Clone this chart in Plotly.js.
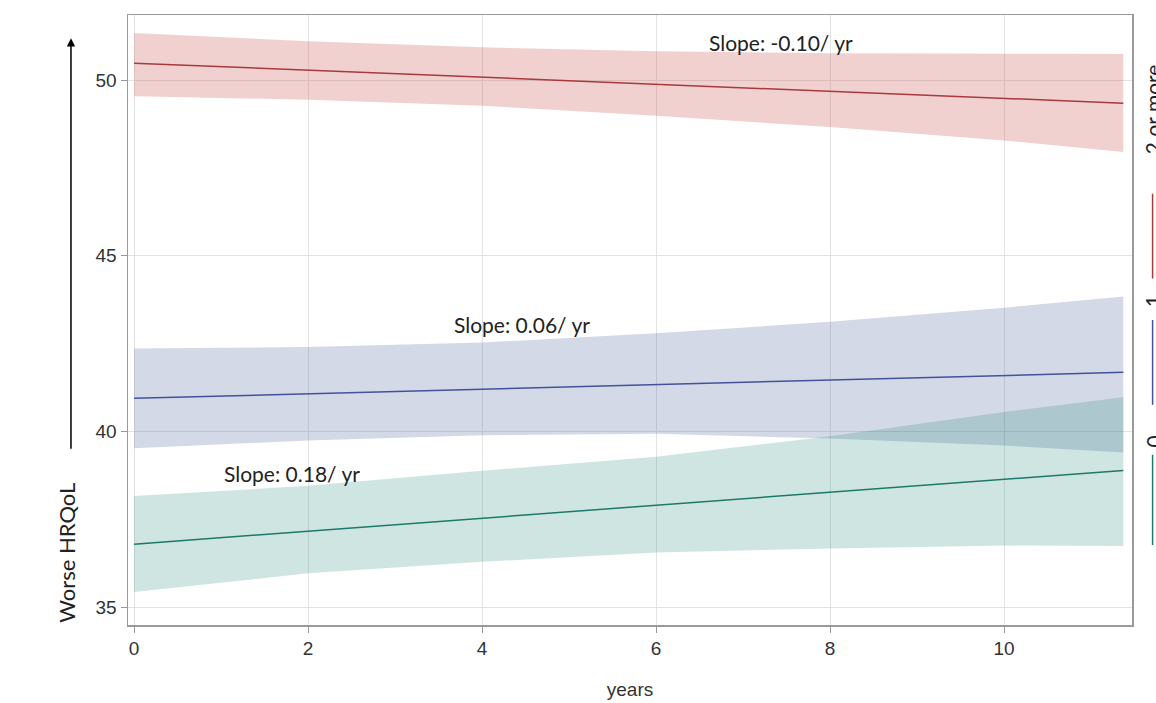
<!DOCTYPE html>
<html>
<head>
<meta charset="utf-8">
<script src="https://cdn.plot.ly/plotly-3.0.1.min.js"></script>
<style>html,body{margin:0;padding:0;background:#fff;}#chart{width:1156px;height:703px;}</style>
</head>
<body>
<div id="chart"></div>
<script>
// ---- data ----
const years = [0, 2, 4, 6, 8, 10, 11.37];

const groupNames = ["2 or more", "1", "0"];

const fit2plus  = [50.48, 50.28, 50.08, 49.88, 49.68, 49.48, 49.34];
const upper2plus = [51.34, 51.10, 50.93, 50.82, 50.76, 50.74, 50.74];
const lower2plus = [49.54, 49.44, 49.27, 48.98, 48.66, 48.28, 47.95];

const fit1   = [40.94, 41.07, 41.20, 41.33, 41.46, 41.59, 41.68];
const upper1 = [42.36, 42.40, 42.53, 42.79, 43.12, 43.52, 43.84];
const lower1 = [39.52, 39.74, 39.89, 39.93, 39.80, 39.60, 39.40];

const fit0   = [36.79, 37.16, 37.53, 37.90, 38.27, 38.64, 38.89];
const upper0 = [38.16, 38.45, 38.88, 39.28, 39.86, 40.55, 40.97];
const lower0 = [35.43, 35.96, 36.29, 36.55, 36.67, 36.75, 36.74];

const slopeLabels = ["Slope: -0.10/ yr", "Slope: 0.06/ yr", "Slope: 0.18/ yr"];
const slopeX = [7.43, 4.46, 1.82];
const slopeY = [51.08, 43.05, 38.80];

const xTicks = [0, 2, 4, 6, 8, 10];
const yTicks = [35, 40, 45, 50];

// ---- styles ----
const lineColors = ["#a83a3c", "#44529c", "#1b7a68"];
const bandColors = ["rgba(204,80,82,0.27)", "rgba(70,90,150,0.23)", "rgba(30,130,120,0.21)"];

const fits = [fit2plus, fit1, fit0];
const uppers = [upper2plus, upper1, upper0];
const lowers = [lower2plus, lower1, lower0];

const traces = [];
for (let i = 0; i < 3; i++) {
  traces.push({
    x: years.concat(years.slice().reverse()),
    y: uppers[i].concat(lowers[i].slice().reverse()),
    type: "scatter", mode: "lines", fill: "toself",
    fillcolor: bandColors[i], line: {width: 0}, hoverinfo: "skip", showlegend: false
  });
}
for (let i = 0; i < 3; i++) {
  traces.push({
    x: years, y: fits[i], type: "scatter", mode: "lines",
    name: groupNames[i], line: {color: lineColors[i], width: 1.5}, showlegend: false
  });
}

const narrow = "'Liberation Sans Narrow', 'Liberation Sans', Arial, sans-serif";
const tickFont = {family: narrow, size: 19, color: "#333"};
const textFont = {family: "Lato, Open Sans, sans-serif", size: 21, color: "#222"};

const annotations = [];
for (let i = 0; i < 3; i++) {
  annotations.push({x: slopeX[i], y: slopeY[i], xref: "x", yref: "y", text: slopeLabels[i],
    showarrow: false, font: textFont, xanchor: "center", yanchor: "middle"});
}
// y-axis title with arrow
annotations.push({xref: "paper", yref: "paper", x: -0.062, y: 0.0, yanchor: "bottom", xanchor: "center",
  text: "Worse HRQoL", textangle: -90, showarrow: false, font: {family: "Lato, Open Sans, sans-serif", size: 22, color: "#222"}});
annotations.push({xref: "paper", yref: "paper", x: -0.0568, y: 0.962, text: "", showarrow: true,
  arrowhead: 2, arrowsize: 1.1, arrowwidth: 1.5, arrowcolor: "#000", ax: 0, ay: 412, axref: "pixel", ayref: "pixel"});

// legend on right (rotated labels with vertical line samples)
const legTextY = [0.845, 0.53, 0.30];
const legLine = [[0.568, 0.707], [0.361, 0.500], [0.131, 0.279]];
const shapes = [];
for (let i = 0; i < 3; i++) {
  annotations.push({xref: "paper", yref: "paper", x: 1.0205, y: legTextY[i], text: groupNames[i],
    textangle: -90, showarrow: false, xanchor: "center", yanchor: "middle", font: textFont});
  shapes.push({type: "line", xref: "paper", yref: "paper", x0: 1.0205, x1: 1.0205,
    y0: legLine[i][0], y1: legLine[i][1], line: {color: lineColors[i], width: 1.5}});
}

const layout = {
  width: 1156, height: 703,
  margin: {l: 128, r: 24, t: 15, b: 78},
  paper_bgcolor: "#fff", plot_bgcolor: "#fff",
  showlegend: false,
  xaxis: {
    range: [-0.07, 11.47], tickvals: xTicks, ticktext: xTicks.map(String),
    showgrid: true, gridcolor: "#e3e3e3", gridwidth: 1, zeroline: false,
    showline: true, linecolor: "#9a9a9a", linewidth: 1.5, mirror: true,
    ticks: "outside", ticklen: 6, tickcolor: "#9a9a9a", tickfont: tickFont,
    title: {text: "years", font: {family: narrow, size: 19, color: "#333"}, standoff: 24}
  },
  yaxis: {
    range: [34.49, 51.85], tickvals: yTicks, ticktext: yTicks.map(String),
    showgrid: true, gridcolor: "#e3e3e3", gridwidth: 1, zeroline: false,
    showline: true, linecolor: "#9a9a9a", linewidth: 1.5, mirror: true,
    ticks: "outside", ticklen: 6, tickcolor: "#9a9a9a", tickfont: tickFont
  },
  annotations: annotations,
  shapes: shapes
};

Plotly.newPlot("chart", traces, layout, {displayModeBar: false, staticPlot: true});
</script>
</body>
</html>
